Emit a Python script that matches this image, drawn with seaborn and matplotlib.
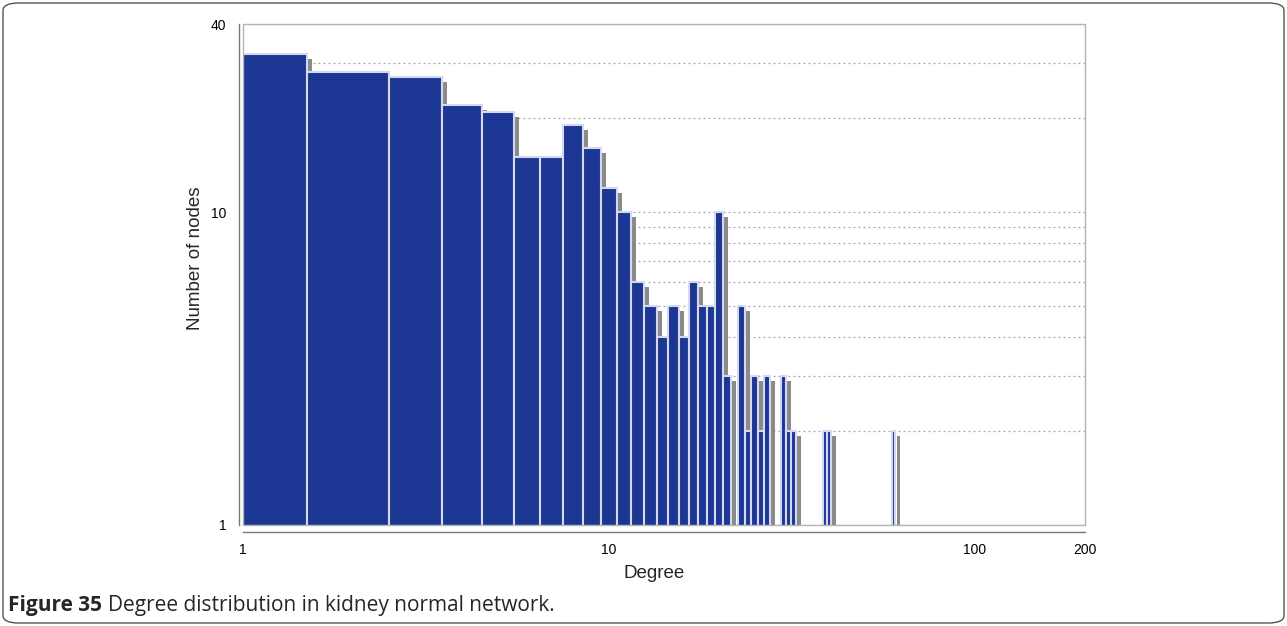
import matplotlib
matplotlib.use("Agg")
import matplotlib.pyplot as plt
import matplotlib.transforms as mtransforms
from matplotlib.patches import Rectangle, FancyBboxPatch
from matplotlib.ticker import FixedLocator, NullFormatter
import seaborn as sns

# degree distribution, kidney normal network
degrees = [1, 2, 3, 4, 5, 6, 7, 8, 9, 10, 11, 12, 13, 14, 15, 16, 17, 18, 19, 20, 21,
           23, 24, 25, 26, 27, 30, 31, 32, 39, 40, 60]
counts = [32, 28, 27, 22, 21, 15, 15, 19, 16, 12, 10, 6, 5, 4, 5, 4, 6, 5, 5, 10, 3,
          5, 2, 3, 2, 3, 3, 2, 2, 2, 2, 2]

x_ticks = [1, 10, 100, 200]
x_minor = [2, 3, 4, 5, 6, 7, 8, 9, 20, 30, 40, 50, 60, 70, 80, 90]
y_ticks = [1, 10, 40]
y_minor = [2, 3, 4, 5, 6, 7, 8, 9, 20, 30]

BLUE = "#1b3793"
SHADOW = "#8a8a8a"

sns.set_style("white")
plt.rcParams["font.family"] = ["Liberation Sans", "DejaVu Sans"]

W, H = 1287, 626
fig = plt.figure(figsize=(W / 100, H / 100), dpi=100)
ax = fig.add_axes([243 / W, 1 - 525 / H, (1085 - 243) / W, (525 - 24) / H])
ax.set_xscale("log")
ax.set_yscale("log")

lefts = [d - 0.5 for d in degrees]

# grey drop shadow, shifted right and down a few pixels
shadow = ax.bar(lefts, counts, width=1.0, align="edge", color=SHADOW,
                linewidth=0, zorder=2)
shift = mtransforms.ScaledTranslation(5 / 100, -5 / 100, fig.dpi_scale_trans)
for p in shadow:
    p.set_transform(ax.transData + shift)

ax.bar(lefts, counts, width=1.0, align="edge", color=BLUE,
       edgecolor="#d6d8f2", linewidth=1.5, zorder=3)

ax.set_xlim(1, 200)
ax.set_ylim(1, 40)

ax.xaxis.set_major_locator(FixedLocator(x_ticks))
ax.xaxis.set_minor_locator(FixedLocator(x_minor))
ax.set_xticklabels([str(v) for v in x_ticks], fontweight="bold", fontsize=11)
ax.xaxis.set_minor_formatter(NullFormatter())
ax.yaxis.set_major_locator(FixedLocator(y_ticks))
ax.yaxis.set_minor_locator(FixedLocator(y_minor))
ax.set_yticklabels([str(v) for v in y_ticks], fontweight="bold", fontsize=11)
ax.yaxis.set_minor_formatter(NullFormatter())

ax.yaxis.grid(True, which="both", linestyle=(0, (1.5, 2.5)), color="#a5a5a5",
              linewidth=0.9, zorder=1)
ax.set_axisbelow(True)

ax.tick_params(axis="both", which="both", direction="out", colors="#666666",
               labelcolor="black", width=0.8)
ax.tick_params(axis="both", which="major", length=5)
ax.tick_params(axis="both", which="minor", length=4)
ax.tick_params(axis="y", pad=4)
ax.tick_params(axis="x", pad=3)

sns.despine(ax=ax, offset=dict(left=3, bottom=5))
for s in ["left", "bottom"]:
    ax.spines[s].set_color("#777777")
    ax.spines[s].set_linewidth(1.0)

# light frame round the plot area
ax.add_patch(Rectangle((0, 0), 1, 1, transform=ax.transAxes, fill=False,
                       edgecolor="#b4b4b4", linewidth=1.0, zorder=4, clip_on=False))

ax.set_xlabel("Degree", fontsize=13.5)
ax.xaxis.set_label_coords((654 - 243) / 842, (525 - 574) / 501)
ax.xaxis.label.set_va("center")
ax.set_ylabel("Number of nodes", fontsize=13.5)
ax.yaxis.set_label_coords((196 - 243) / 842, (525 - 258) / 501)
ax.yaxis.label.set_va("center")

# caption, bold figure number then plain text
cap_y = 1 - 606 / H
t1 = fig.text(8 / W, cap_y, "Figure 35", family="Open Sans", weight="bold",
              fontsize=15, va="center")
r = fig.canvas.get_renderer()
bb = t1.get_window_extent(r)
fig.text((bb.x1 + 6) / W, cap_y, "Degree distribution in kidney normal network.",
         family="Open Sans", fontsize=15, va="center")

fig.patches.append(FancyBboxPatch((3 / W, 3 / H), 1 - 6 / W, 1 - 6 / H,
                                  boxstyle="round,pad=0,rounding_size=0.012",
                                  transform=fig.transFigure, fill=False,
                                  edgecolor="#555555", linewidth=1.0))

fig.savefig("out.png", dpi=100)
